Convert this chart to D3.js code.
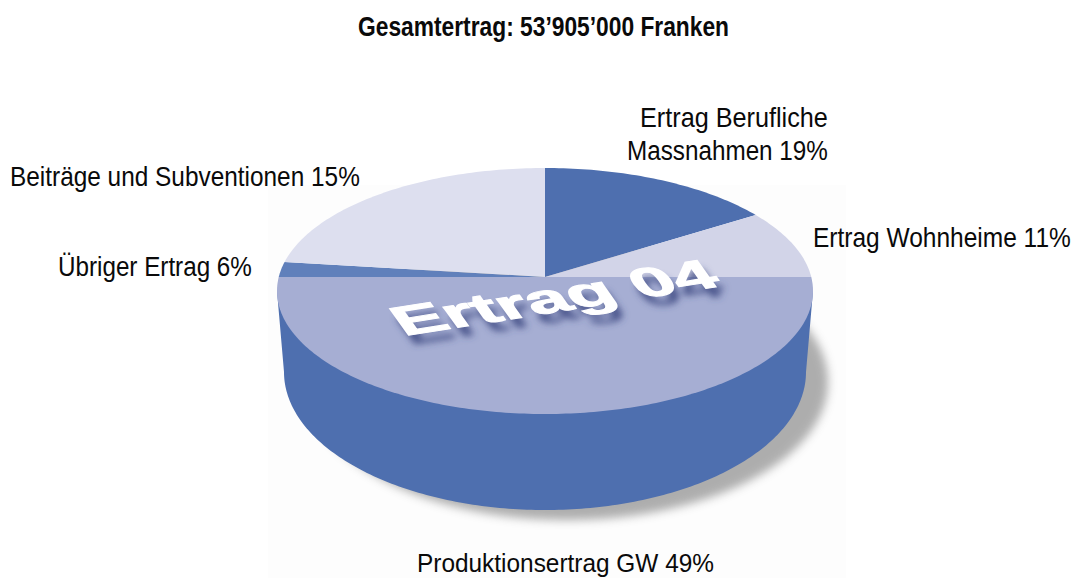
<!DOCTYPE html>
<html><head><meta charset="utf-8">
<script src="https://cdn.jsdelivr.net/npm/d3@7"></script>
<style>html,body{margin:0;padding:0;background:#fff}svg{display:block}
text{font-family:"Liberation Sans Narrow","Liberation Sans",sans-serif;fill:#0a0a0a}</style>
</head><body><svg id="c" width="1074" height="578"></svg>
<script>
const titleText = "Gesamtertrag: 53’905’000 Franken";
const categories = ["Ertrag Berufliche Massnahmen","Ertrag Wohnheime","Produktionsertrag GW","Übriger Ertrag","Beiträge und Subventionen"];
const drawnShares = [14.4, 8.8, 53.6, 2.0, 21.2];
const labelPercents = [19, 11, 49, 6, 15];
const sliceColors = ["#4e6faf","#d2d4e8","#a6aed3","#6080bb","#dddfef"];
const watermark = "Ertrag 04";

const svg = d3.select("#c");
const defs = svg.append("defs");
defs.append("filter").attr("id","blurS").attr("x","-20%").attr("y","-20%").attr("width","140%").attr("height","140%")
  .append("feGaussianBlur").attr("stdDeviation",5);
defs.append("filter").attr("id","blurT").attr("x","-20%").attr("y","-40%").attr("width","140%").attr("height","180%")
  .append("feGaussianBlur").attr("stdDeviation",3.5);

svg.append("rect").attr("x",268).attr("y",185).attr("width",578).attr("height",393).attr("fill","#fdfdfd");

// perspective projection: rim ellipses, hub sits above the rim ellipse centre
const hub = [545,277];
const sx = d3.scaleLinear().domain([-1,1]).range([277,813]);
const sy = d3.scaleLinear().domain([-1,1]).range([414,168]);
const topPt = a => [sx(Math.sin(a)), sy(Math.cos(a))];
const bx = d3.scaleLinear().domain([-1,1]).range([284,806]);
const by = d3.scaleLinear().domain([-1,1]).range([510,234]);
const botPt = a => [bx(Math.sin(a)), by(Math.cos(a))];

const line = d3.line();
const step = Math.PI/180;
const sweep = (a0,a1,f) => { const n=Math.max(2,Math.ceil((a1-a0)/step)); return d3.range(n+1).map(i=>f(a0+(a1-a0)*i/n)); };

// drop shadow from the base ellipse
svg.append("path").attr("d",line(sweep(0,2*Math.PI,botPt))+"Z").attr("fill","#8f8f8f").attr("opacity",0.72)
  .attr("transform","translate(22,10)").attr("filter","url(#blurS)");

// side wall
const wall = sweep(Math.PI/2,3*Math.PI/2,botPt).concat(sweep(3*Math.PI/2,Math.PI/2,topPt));
svg.append("path").attr("d",line(wall)+"Z").attr("fill","#4e6faf");

// top face
const arcs = d3.pie().sort(null).value(d=>d)(drawnShares);
svg.append("g").selectAll("path").data(arcs).join("path")
  .attr("d",d=>line([hub].concat(sweep(d.startAngle,d.endAngle,topPt)))+"Z")
  .attr("fill",(d,i)=>sliceColors[i]);

// watermark
const wm = "matrix(1.84,-0.29,0.69,0.97,404,336)";
const wmStyle = s => s.style("font-family","'Liberation Sans',sans-serif").style("font-weight","bold").attr("font-size",40);
svg.append("g").attr("transform","translate(6,9)").attr("filter","url(#blurT)")
  .append("text").text(watermark).attr("transform",wm).call(wmStyle).style("fill","#39457f").attr("opacity",.85);
svg.append("text").text(watermark).attr("transform",wm).call(wmStyle).style("fill","#fff")
  .style("stroke","#fff").style("stroke-width",1);

// title & labels: natural text squeezed to the condensed widths
const place = (t,left,base,width,size,weight) => {
  const n = svg.append("text").attr("font-size",size).attr("font-weight",weight).text(t);
  const w = n.node().getComputedTextLength();
  n.attr("transform",`translate(${left},${base}) scale(${width/w},1)`);
};
place(titleText,358,36,371,27.5,"bold");
place("Ertrag Berufliche",640,127,188,28,"normal");
place(`Massnahmen ${labelPercents[0]}%`,627,160,201,28,"normal");
place(`${categories[1]} ${labelPercents[1]}%`,813,247,258,28,"normal");
place(`${categories[2]} ${labelPercents[2]}%`,417,572,297,26.5,"normal");
place(`${categories[3]} ${labelPercents[3]}%`,58,276,194,28,"normal");
place(`${categories[4]} ${labelPercents[4]}%`,10,186,350,28,"normal");
</script></body></html>
